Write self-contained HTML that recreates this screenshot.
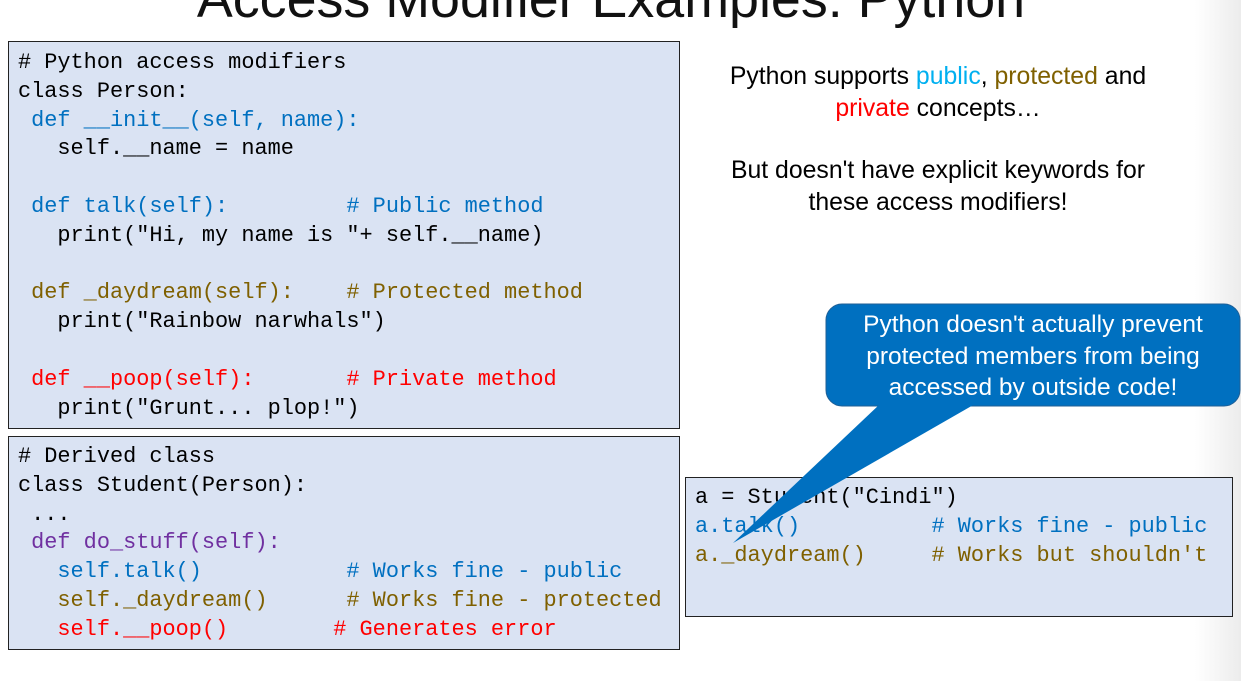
<!DOCTYPE html>
<html><head><meta charset="utf-8"><style>
html,body{margin:0;padding:0;}
body{width:1241px;height:681px;position:relative;overflow:hidden;background:#fff;font-family:"Liberation Sans",sans-serif;}
.fade{position:absolute;left:1195px;top:0;width:46px;height:681px;background:linear-gradient(to right,rgba(240,240,240,0),#ececec);}
.title{position:absolute;left:0;width:1222px;text-align:center;top:-31px;font-size:53.8px;line-height:60px;color:#111;white-space:nowrap;}
.box{position:absolute;background:#dae3f3;border:1px solid #222;box-sizing:border-box;}
pre{position:absolute;margin:0;font-family:"Liberation Mono",monospace;font-size:21.9px;line-height:28.8px;color:#000;}
.b{color:#0070c0}.o{color:#7f6000}.r{color:#ff0000}.p{color:#7030a0}
.txt{position:absolute;left:680px;width:516px;text-align:center;font-size:24.8px;line-height:32px;color:#000;white-space:nowrap;}
.callt{position:absolute;left:816px;width:434px;text-align:center;top:309px;font-size:24.5px;line-height:31.5px;color:#fff;white-space:nowrap;}
</style></head><body>
<div class="fade"></div>
<div class="title">Access Modifier Examples: Python</div>

<div class="box" style="left:8px;top:41px;width:672px;height:388px"></div>
<pre style="left:18px;top:49px"># Python access modifiers
class Person:
<span class="b"> def __init__(self, name):</span>
   self.__name = name

<span class="b"> def talk(self):         # Public method</span>
   print("Hi, my name is "+ self.__name)

<span class="o"> def _daydream(self):    # Protected method</span>
   print("Rainbow narwhals")

<span class="r"> def __poop(self):       # Private method</span>
   print("Grunt... plop!")</pre>

<div class="box" style="left:8px;top:436px;width:672px;height:214px"></div>
<pre style="left:18px;top:443px"># Derived class
class Student(Person):
 ...
<span class="p"> def do_stuff(self):</span>
<span class="b">   self.talk()           # Works fine - public</span>
<span class="o">   self._daydream()      # Works fine - protected</span>
<span class="r">   self.__poop()        # Generates error</span></pre>

<div class="box" style="left:685px;top:477px;width:548px;height:140px"></div>
<pre style="left:695px;top:484px">a = Student("Cindi")
<span class="b">a.talk()          # Works fine - public</span>
<span class="o">a._daydream()     # Works but shouldn't</span></pre>

<div class="txt" style="top:61px">Python supports <span style="color:#00b0f0">public</span>, <span style="color:#7f6000">protected</span> and<br><span style="color:#ff0000">private</span> concepts…</div>
<div class="txt" style="top:155px">But doesn't have explicit keywords for<br>these access modifiers!</div>

<svg style="position:absolute;left:0;top:0" width="1241" height="681">
<rect x="826" y="304" width="414" height="102" rx="16" fill="#0070c0" stroke="#1f5f96" stroke-width="1"/>
<polygon points="880,404 975,404 733,543" fill="#0070c0"/>
</svg>
<div class="callt">Python doesn't actually prevent<br>protected members from being<br>accessed by outside code!</div>
</body></html>
